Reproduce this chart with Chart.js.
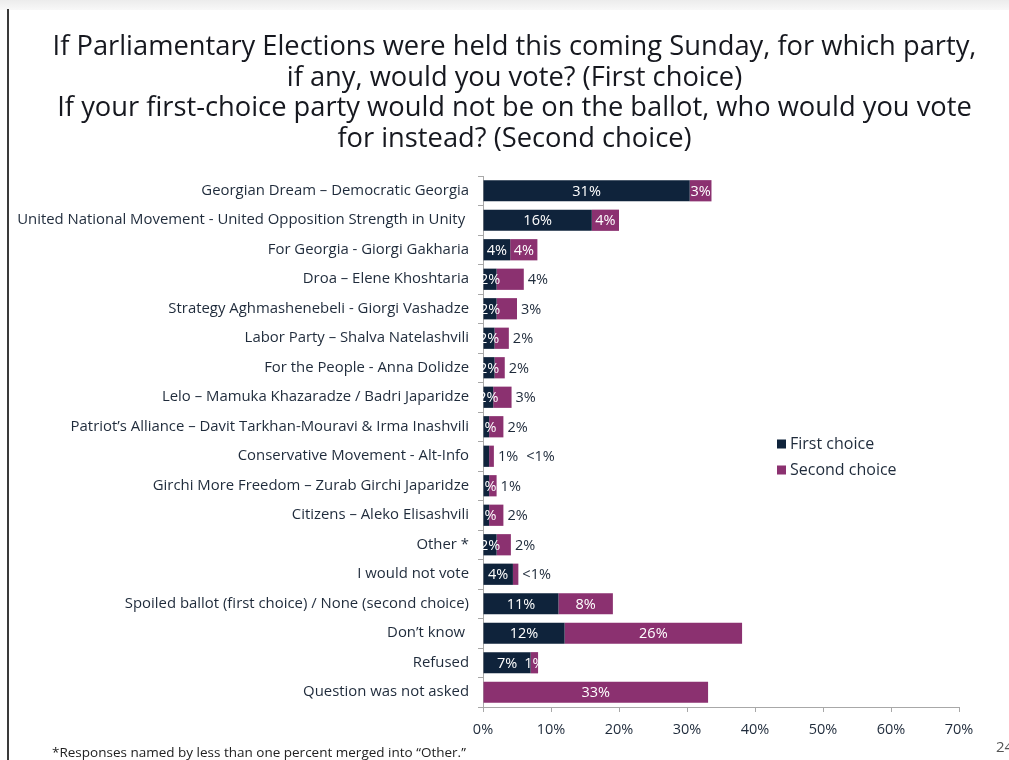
<!DOCTYPE html>
<html>
<head>
<meta charset="utf-8">
<script src="https://cdn.jsdelivr.net/npm/chart.js@4.4.0/dist/chart.umd.min.js"></script>
<style>
  body { margin: 0; background: #fff; width: 1009px; height: 760px; overflow: hidden; position: relative; font-family: 'Open Sans', sans-serif; }
  #faixa { position: absolute; left: 0; top: 0; width: 1009px; height: 10px; background: linear-gradient(#ececec, #f8f8f8); }
  #linha { position: absolute; left: 7px; top: 9px; width: 2px; height: 751px; background: #3a3a3a; }
  #titulo { position: absolute; left: 10px; top: 30px; width: 1009px; text-align: center; font-size: 27.3px; line-height: 30.5px; color: #16181f; }
  #nota { position: absolute; left: 52px; top: 743px; font-size: 13.5px; color: #222; }
  #pagina { position: absolute; left: 996px; top: 736px; font-size: 15px; color: #555; }
  canvas { position: absolute; left: 0; top: 0; }
</style>
</head>
<body>
<div id="faixa"></div>
<div id="linha"></div>
<canvas id="grafico" width="1009" height="760"></canvas>
<div id="titulo">If Parliamentary Elections were held this coming Sunday, for which party,<br>if any, would you vote? (First choice)<br>If your first-choice party would not be on the ballot, who would you vote<br>for instead? (Second choice)</div>
<div id="nota">*Responses named by less than one percent merged into “Other.”</div>
<div id="pagina">24</div>
<script>
// Dados do grafico
var categorias = [
    'Georgian Dream – Democratic Georgia',
    'United National Movement - United Opposition Strength in Unity ',
    'For Georgia - Giorgi Gakharia',
    'Droa – Elene Khoshtaria',
    'Strategy Aghmashenebeli - Giorgi Vashadze',
    'Labor Party – Shalva Natelashvili',
    'For the People - Anna Dolidze',
    'Lelo – Mamuka Khazaradze / Badri Japaridze',
    'Patriot’s Alliance – Davit Tarkhan-Mouravi & Irma Inashvili',
    'Conservative Movement - Alt-Info',
    'Girchi More Freedom – Zurab Girchi Japaridze',
    'Citizens – Aleko Elisashvili',
    'Other *',
    'I would not vote',
    'Spoiled ballot (first choice) / None (second choice)',
    'Don’t know ',
    'Refused',
    'Question was not asked'
];
var primeiraEscolha = [30.4, 16, 4, 2, 2, 1.7, 1.7, 1.5, 0.9, 0.9, 0.9, 0.9, 2, 4.4, 11.1, 12, 7, 0];
var segundaEscolha = [3.2, 4, 4, 4, 3, 2.1, 1.5, 2.7, 2.1, 0.7, 1.1, 2.1, 2.1, 0.8, 8, 26.1, 1.1, 33.1];
var rotulosPrimeira = ['31%', '16%', '4%', '2%', '2%', '2%', '2%', '2%', '1%', '1%', '1%', '1%', '2%', '4%', '11%', '12%', '7%', ''];
var rotulosSegunda = ['3%', '4%', '4%', '4%', '3%', '2%', '2%', '3%', '2%', '<1%', '1%', '2%', '2%', '<1%', '8%', '26%', '1%', '33%'];
var ticksX = [0, 10, 20, 30, 40, 50, 60, 70];

// cores
var azul = '#0f233b';
var roxo = '#8b3170';
var textoEscuro = '#1f2b3b';

// quais rotulos ficam fora da barra
var segundaDentro = [0, 1, 2, 14, 15, 16, 17];
var primeiraFora = [9];

var fonte = "'Open Sans', sans-serif";
Chart.defaults.font.family = fonte;

var pluginRotulos = {
    id: 'rotulos',
    afterDatasetsDraw(chart) {
        var ctx = chart.ctx;
        var m1 = chart.getDatasetMeta(0);
        var m2 = chart.getDatasetMeta(1);
        ctx.save();
        ctx.font = '14.5px ' + fonte;
        ctx.textBaseline = 'middle';
        m1.data.forEach((barra, i) => {
            var b2 = m2.data[i];
            var xFora = Math.max(barra.x, b2.x) + 4;
            var r1 = rotulosPrimeira[i];
            if (r1) {
                if (primeiraFora.includes(i)) {
                    ctx.fillStyle = textoEscuro;
                    ctx.textAlign = 'left';
                    ctx.fillText(r1, xFora, barra.y + 1);
                    xFora += ctx.measureText(r1).width + 8;
                } else {
                    ctx.fillStyle = '#ffffff';
                    ctx.textAlign = 'center';
                    ctx.fillText(r1, (barra.base + barra.x) / 2, barra.y + 1);
                }
            }
            var r2 = rotulosSegunda[i];
            if (segundaDentro.includes(i)) {
                ctx.fillStyle = '#ffffff';
                ctx.textAlign = 'center';
                ctx.fillText(r2, (b2.base + b2.x) / 2, b2.y + 1);
            } else {
                ctx.fillStyle = textoEscuro;
                ctx.textAlign = 'left';
                ctx.fillText(r2, xFora, b2.y + 1);
            }
        });
        ctx.restore();
    }
};

var pluginLegenda = {
    id: 'legendaManual',
    afterDraw(chart) {
        var ctx = chart.ctx;
        ctx.save();
        ctx.font = '16px ' + fonte;
        ctx.textBaseline = 'middle';
        ctx.textAlign = 'left';
        chart.data.datasets.forEach((ds, i) => {
            var y = 444 + i * 26;
            ctx.fillStyle = ds.backgroundColor;
            ctx.fillRect(777, y - 4.5, 9, 9);
            ctx.fillStyle = textoEscuro;
            ctx.fillText(ds.label, 790, y);
        });
        ctx.restore();
    }
};

var ctx = document.getElementById('grafico').getContext('2d');
var myChart = new Chart(ctx, {
    type: 'bar',
    data: {
        labels: categorias,
        datasets: [{
            label: 'First choice',
            data: primeiraEscolha,
            backgroundColor: azul,
            borderWidth: 0,
            categoryPercentage: 0.72,
            barPercentage: 1
        }, {
            label: 'Second choice',
            data: segundaEscolha,
            backgroundColor: roxo,
            borderWidth: 0,
            categoryPercentage: 0.72,
            barPercentage: 1
        }]
    },
    options: {
        indexAxis: 'y',
        responsive: false,
        animation: false,
        layout: { padding: { top: 176, right: 50, bottom: 21, left: 0 } },
        plugins: {
            legend: { display: false },
            tooltip: { enabled: false }
        },
        scales: {
            x: {
                stacked: true,
                min: 0,
                max: 70,
                afterBuildTicks: (s) => { s.ticks = ticksX.map(v => ({ value: v })); },
                ticks: { callback: v => v + '%', color: textoEscuro, font: { size: 14.5 }, padding: 9 },
                grid: { drawOnChartArea: false, tickLength: 5, color: '#a8a8a8' },
                border: { color: '#a8a8a8' },
                afterFit: (s) => { s.height = 32; }
            },
            y: {
                stacked: true,
                ticks: { color: textoEscuro, font: { size: 14.9 }, padding: 9, autoSkip: false },
                grid: { drawOnChartArea: false, tickLength: 5, color: '#a8a8a8', offset: true },
                border: { color: '#a8a8a8' },
                afterFit: (s) => { s.width = 483; }
            }
        }
    },
    plugins: [pluginRotulos, pluginLegenda]
});
</script>
</body>
</html>
